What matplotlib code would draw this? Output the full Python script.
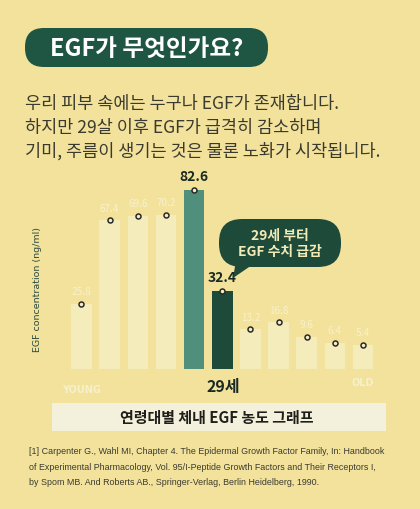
import matplotlib.pyplot as plt
from matplotlib.patches import FancyBboxPatch, Polygon, Rectangle

plt.rcParams['font.family'] = ['Noto Sans CJK KR', 'DejaVu Sans']

# data
ages = ["young", "", "", "", "", "29", "", "", "", "", "old"]
values = [25.8, 67.4, 69.6, 70.2, 82.6, 32.4, 13.2, 16.8, 9.6, 6.4, 5.4]
labels = ["25.8", "67.4", "69.6", "70.2", "82.6", "32.4", "13.2", "16.8", "9.6", "6.4", "5.4"]
peak_idx = 4
drop_idx = 5

BG = "#f2e29c"
BAR_LIGHT = "#f5ecbc"
PEAK = "#4f8f7b"
DARK = "#1e4a3a"
TXT = "#3b3a2e"
BASE = -7  # bars run a little below zero, down to the edge of the plot

fig = plt.figure(figsize=(4.2, 5.1), dpi=100, facecolor=BG)

# px -> figure fraction helpers
W, H = 420, 510
def fx(px):
    return px / W
def fy(py):
    return 1 - py / H

# ---- title pill ----
pill = FancyBboxPatch((fx(25), fy(68)), fx(243), fy(29) - fy(68),
                      boxstyle="round,pad=0,rounding_size=0.045",
                      transform=fig.transFigure, facecolor="#1f5543", edgecolor="none",
                      mutation_aspect=420 / 510)
fig.patches.append(pill)
fig.text(fx(147), fy(49), "EGF가 무엇인가요?", color="white", fontsize=17,
         fontweight="bold", ha="center", va="center")

# ---- body text ----
body = ["우리 피부 속에는 누구나 EGF가 존재합니다.",
        "하지만 29살 이후 EGF가 급격히 감소하며",
        "기미, 주름이 생기는 것은 물론 노화가 시작됩니다."]
for i, line in enumerate(body):
    fig.text(fx(25), fy(104 + i * 23.5), line, color=TXT, fontsize=12.6,
             ha="left", va="center")

# ---- bar chart ----
ax = fig.add_axes([fx(64), fy(370), fx(380) - fx(64), fy(170) - fy(370)])
ax.set_facecolor("none")
x = list(range(len(values)))
colors = [BAR_LIGHT] * len(values)
colors[peak_idx] = PEAK
colors[drop_idx] = DARK
ax.bar(x, [v - BASE for v in values], width=0.73, bottom=BASE, color=colors, edgecolor="none")
ax.plot(x, values, linestyle="none", marker="o", markersize=3.6,
        markerfacecolor="#f4eed0", markeredgecolor="#2a2a22", markeredgewidth=1.1, zorder=3)
for i, (v, lab) in enumerate(zip(values, labels)):
    if i in (peak_idx, drop_idx):
        ax.text(i, v + 3.2, lab, ha="center", va="bottom", fontsize=10,
                fontweight="bold", color="#1a2a22")
    else:
        ax.text(i, v + 3.8, lab, ha="center", va="bottom", fontsize=7.2,
                color="#f8f1cc")
ax.set_xlim(-0.62, 10.6)
ax.set_ylim(-6.5, 93)
ax.axis("off")

fig.text(fx(37), fy(290), "EGF concentration (ng/ml)", rotation=90, color="#2c4a3e",
         fontsize=6.8, ha="center", va="center", family="DejaVu Sans")

fig.text(fx(82), fy(390), ages[0].upper(), color="#f7f0cc", fontsize=7,
         fontweight="bold", ha="center", va="center", family="DejaVu Sans")
fig.text(fx(363), fy(383), ages[-1].upper(), color="#f7f0cc", fontsize=7,
         fontweight="bold", ha="center", va="center", family="DejaVu Sans")
fig.text(fx(223), fy(387), ages[drop_idx] + "세", color="#1a2a22", fontsize=11.5,
         fontweight="bold", ha="center", va="center")

# ---- speech bubble ----
bubble = FancyBboxPatch((fx(219), fy(268)), fx(122), fy(220) - fy(268),
                        boxstyle="round,pad=0,rounding_size=0.055",
                        transform=fig.transFigure, facecolor=DARK, edgecolor="none",
                        mutation_aspect=420 / 510)
fig.patches.append(bubble)
tail = Polygon([(fx(236), fy(262)), (fx(252), fy(266)), (fx(233), fy(279))],
               closed=True, transform=fig.transFigure, facecolor=DARK, edgecolor="none")
fig.patches.append(tail)
fig.text(fx(280), fy(244), "29세 부터\nEGF 수치 급감", color="#f2ebb6", fontsize=10,
         fontweight="bold", ha="center", va="center", linespacing=1.25)

# ---- caption band ----
band = Rectangle((fx(52), fy(432)), fx(334), fy(404) - fy(432),
                 transform=fig.transFigure, facecolor="#f3f0dc", edgecolor="none")
fig.patches.append(band)
fig.text(fx(217), fy(418), "연령대별 체내 EGF 농도 그래프", color="#1f1f1a",
         fontsize=10.8, fontweight="bold", ha="center", va="center")

# ---- reference ----
ref = ["[1] Carpenter G., Wahl MI, Chapter 4. The Epidermal Growth Factor Family, In: Handbook",
       "of Experimental Pharmacology, Vol. 95/I-Peptide Growth Factors and Their Receptors I,",
       "by Spom MB. And Roberts AB., Springer-Verlag, Berlin Heidelberg, 1990."]
for i, line in enumerate(ref):
    fig.text(fx(29), fy(452 + i * 15.5), line, color="#3a3a30", fontsize=6.4,
             ha="left", va="center", family="Liberation Sans")

fig.savefig("out.png", dpi=100, facecolor=BG)
